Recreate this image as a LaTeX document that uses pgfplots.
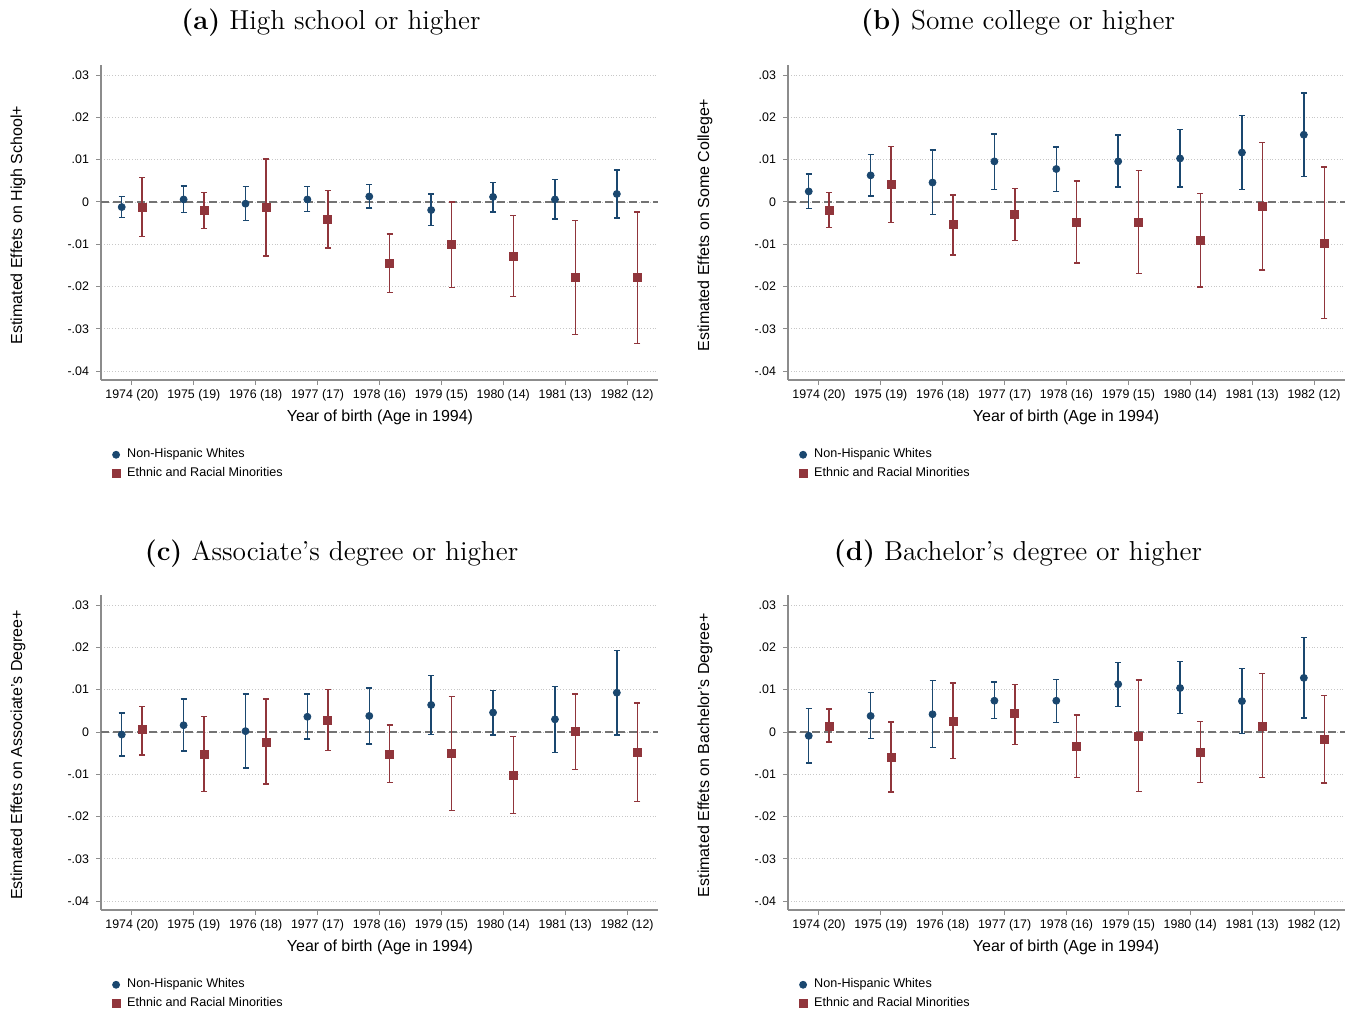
\documentclass[border=0pt]{standalone}
\usepackage{fontspec}
\usepackage{pgfplots}
\usepackage{pgfplotstable}
\pgfplotsset{compat=1.18}
\newfontfamily\arial{Liberation Sans}

\definecolor{sblue}{RGB}{26,71,111}
\definecolor{sred}{RGB}{144,53,59}

% x: cohort index, w*: Non-Hispanic Whites (est, lo, hi), m*: minorities
\pgfplotstableread{
x wy wlo whi my mlo mhi
1 -0.0012 -0.0037 0.0013 -0.0013 -0.0081 0.0058
2 0.0006 -0.0025 0.0038 -0.0020 -0.0063 0.0023
3 -0.0004 -0.0044 0.0036 -0.0013 -0.0128 0.0102
4 0.0006 -0.0023 0.0036 -0.0041 -0.0109 0.0027
5 0.0013 -0.0014 0.0041 -0.0146 -0.0214 -0.0076
6 -0.0019 -0.0056 0.0019 -0.0100 -0.0202 0.0000
7 0.0012 -0.0024 0.0046 -0.0129 -0.0224 -0.0032
8 0.0006 -0.0040 0.0053 -0.0179 -0.0313 -0.0044
9 0.0019 -0.0038 0.0076 -0.0179 -0.0335 -0.0024
}\tabA
\pgfplotstableread{
x wy wlo whi my mlo mhi
1 0.0025 -0.0016 0.0066 -0.0021 -0.0061 0.0022
2 0.0063 0.0014 0.0113 0.0041 -0.0049 0.0131
3 0.0046 -0.0030 0.0123 -0.0054 -0.0125 0.0017
4 0.0096 0.0029 0.0161 -0.0030 -0.0091 0.0032
5 0.0078 0.0025 0.0130 -0.0049 -0.0144 0.0050
6 0.0096 0.0035 0.0158 -0.0049 -0.0169 0.0075
7 0.0103 0.0035 0.0172 -0.0092 -0.0201 0.0020
8 0.0117 0.0029 0.0205 -0.0011 -0.0161 0.0141
9 0.0159 0.0060 0.0258 -0.0097 -0.0276 0.0083
}\tabB
\pgfplotstableread{
x wy wlo whi my mlo mhi
1 -0.0006 -0.0057 0.0045 0.0005 -0.0054 0.0061
2 0.0016 -0.0045 0.0078 -0.0053 -0.0141 0.0036
3 0.0002 -0.0085 0.0090 -0.0024 -0.0123 0.0078
4 0.0036 -0.0017 0.0090 0.0028 -0.0044 0.0100
5 0.0038 -0.0028 0.0104 -0.0053 -0.0120 0.0017
6 0.0064 -0.0006 0.0134 -0.0050 -0.0186 0.0084
7 0.0046 -0.0007 0.0098 -0.0102 -0.0193 -0.0010
8 0.0030 -0.0048 0.0108 0.0002 -0.0088 0.0090
9 0.0093 -0.0007 0.0193 -0.0048 -0.0165 0.0069
}\tabC
\pgfplotstableread{
x wy wlo whi my mlo mhi
1 -0.0009 -0.0073 0.0055 0.0014 -0.0024 0.0054
2 0.0038 -0.0016 0.0093 -0.0060 -0.0142 0.0024
3 0.0042 -0.0037 0.0122 0.0025 -0.0063 0.0116
4 0.0074 0.0032 0.0118 0.0043 -0.0029 0.0113
5 0.0074 0.0022 0.0124 -0.0034 -0.0108 0.0040
6 0.0113 0.0061 0.0165 -0.0010 -0.0141 0.0123
7 0.0104 0.0044 0.0167 -0.0048 -0.0119 0.0025
8 0.0073 -0.0003 0.0150 0.0013 -0.0108 0.0138
9 0.0128 0.0033 0.0224 -0.0017 -0.0121 0.0087
}\tabD

\pgfplotsset{
  effplot/.style={
    scale only axis, width=278.5pt, height=157.5pt,
    xmin=0.5, xmax=9.5, ymin=-0.0421, ymax=0.0324,
    axis lines=left, axis line style={-, color=black!45, line width=0.6pt},
    xtick={1,2,3,4,5,6,7,8,9},
    xticklabels={1974 (20),1975 (19),1976 (18),1977 (17),1978 (16),1979 (15),1980 (14),1981 (13),1982 (12)},
    ytick={-0.04,-0.03,-0.02,-0.01,0,0.01,0.02,0.03},
    yticklabels={-.04,-.03,-.02,-.01,0,.01,.02,.03},
    scaled y ticks=false,
    tick align=outside, major tick length=2.5pt,
    tick style={color=black!45, line width=0.5pt},
    ymajorgrids, grid style={densely dotted, black!22, line width=0.4pt},
    ticklabel style={font=\arial\fontsize{6.2}{7}\selectfont, text=black},
    xticklabel style={yshift=1.5pt},
    /pgf/number format/assume math mode=true,
    clip=false,
    legend style={at={(0.0084,-0.199)}, anchor=north west, draw=none, fill=none,
      font=\arial\fontsize{6.3}{7.5}\selectfont, row sep=1.6pt,
      nodes={inner sep=0.8pt}},
    legend cell align=left,
    legend image code/.code={\path[draw=none] (1.25pt,0pt) (7.75pt,0pt);
      \draw[mark repeat=1,#1] plot coordinates {(3pt,0pt)};},
  },
  wplot/.style={only marks, mark=*, mark size=1.75pt, color=sblue,
    error bars/.cd, y dir=both, y explicit,
    error bar style={line width=0.7pt, color=sblue},
    error mark options={rotate=90, mark size=1.5pt, line width=0.7pt, color=sblue}},
  mplot/.style={only marks, mark=square*, mark size=2pt, color=sred,
    error bars/.cd, y dir=both, y explicit,
    error bar style={line width=0.7pt, color=sred},
    error mark options={rotate=90, mark size=1.5pt, line width=0.7pt, color=sred}},
  zline/.style={forget plot, color=black!55, line width=0.6pt, dash pattern=on 4pt off 2pt},
}

\newcommand{\panel}[1]{%
  \addplot[zline] coordinates {(0.5,0) (9.5,0)};
  \addplot[wplot] table[x expr=\thisrow{x}-0.165, y=wy,
    y error plus expr=\thisrow{whi}-\thisrow{wy},
    y error minus expr=\thisrow{wy}-\thisrow{wlo}] {#1};
  \addlegendentry{Non-Hispanic Whites}
  \addplot[mplot] table[x expr=\thisrow{x}+0.165, y=my,
    y error plus expr=\thisrow{mhi}-\thisrow{my},
    y error minus expr=\thisrow{my}-\thisrow{mlo}] {#1};
  \addlegendentry{Ethnic and Racial Minorities}
}

\begin{document}
\begin{tikzpicture}
\useasboundingbox (0,0) rectangle (679pt,-505.5pt);

\begin{axis}[effplot, at={(50.5pt,-190pt)}, anchor=south west]
\panel{\tabA}
\end{axis}
\begin{axis}[effplot, at={(394pt,-190pt)}, anchor=south west]
\panel{\tabB}
\end{axis}
\begin{axis}[effplot, at={(50.5pt,-455pt)}, anchor=south west]
\panel{\tabC}
\end{axis}
\begin{axis}[effplot, at={(394pt,-455pt)}, anchor=south west]
\panel{\tabD}
\end{axis}

% titles
\tikzset{ttl/.style={anchor=base, font=\fontsize{13.7}{16}\selectfont, inner sep=0pt}}
\node[ttl] at (165.5pt,-15pt) {\textbf{(a)} High school or higher};
\node[ttl] at (509pt,-15pt) {\textbf{(b)} Some college or higher};
\node[ttl] at (165.75pt,-280pt) {\textbf{(c)} Associate’s degree or higher};
\node[ttl] at (509pt,-280pt) {\textbf{(d)} Bachelor’s degree or higher};

% axis titles
\tikzset{lab/.style={anchor=center, font=\arial\fontsize{8}{9}\selectfont, inner sep=0pt}}
\node[lab, rotate=90] at (9pt,-112.5pt) {Estimated Effets on High School+};
\node[lab, rotate=90] at (352.5pt,-112.5pt) {Estimated Effets on Some College+};
\node[lab, rotate=90] at (9pt,-377.5pt) {Estimated Effets on Associate’s Degree+};
\node[lab, rotate=90] at (352.5pt,-377.5pt) {Estimated Effets on Bachelor’s Degree+};
\node[lab] at (190pt,-208.5pt) {Year of birth (Age in 1994)};
\node[lab] at (533pt,-208.5pt) {Year of birth (Age in 1994)};
\node[lab] at (190pt,-473.5pt) {Year of birth (Age in 1994)};
\node[lab] at (533pt,-473.5pt) {Year of birth (Age in 1994)};
\end{tikzpicture}
\end{document}
